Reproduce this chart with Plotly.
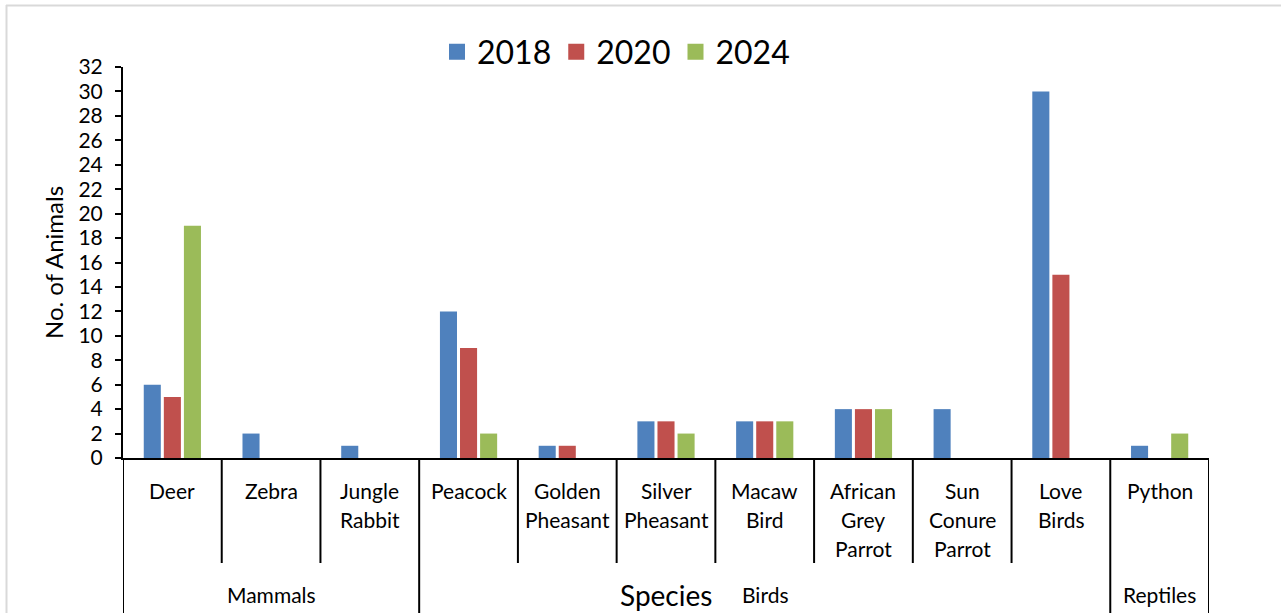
import plotly.graph_objects as go

# ---- data ----
species = ["Deer", "Zebra", "Jungle Rabbit", "Peacock", "Golden Pheasant",
           "Silver Pheasant", "Macaw Bird", "African Grey Parrot",
           "Sun Conure Parrot", "Love Birds", "Python"]
species_lines = [["Deer"], ["Zebra"], ["Jungle", "Rabbit"], ["Peacock"],
                 ["Golden", "Pheasant"], ["Silver", "Pheasant"], ["Macaw", "Bird"],
                 ["African", "Grey", "Parrot"], ["Sun", "Conure", "Parrot"],
                 ["Love", "Birds"], ["Python"]]
groups = ["Mammals", "Birds", "Reptiles"]
group_sizes = [3, 7, 1]
years = ["2018", "2020", "2024"]
v2018 = [6, 2, 1, 12, 1, 3, 3, 4, 4, 30, 1]
v2020 = [5, 0, 0, 9, 1, 3, 3, 4, 0, 15, 0]
v2024 = [19, 0, 0, 2, 0, 2, 3, 4, 0, 0, 2]
colors = ["#4F81BD", "#C0504D", "#9BBB59"]
y_ticks = list(range(0, 33, 2))

# ---- layout geometry ----
W, H = 1281, 613
L, R, T, B = 123, 72, 67, 155
PW, PH = W - L - R, H - T - B


def px_x(px):
    return (px - L) / PW


def px_y(py):
    return (H - B - py) / PH


FONT = "Lato"
fig = go.Figure()
for name, vals, col in zip(years, [v2018, v2020, v2024], colors):
    fig.add_trace(go.Bar(x=species, y=vals, name=name, marker_color=col,
                         marker_line_width=0, showlegend=False))
    # legend proxy with bigger square
    fig.add_trace(go.Scatter(x=[None], y=[None], mode="markers", name=name,
                             marker=dict(symbol="square", size=22, color=col)))

shapes = []
# divider lines below the axis
group_bounds = [0]
for s in group_sizes:
    group_bounds.append(group_bounds[-1] + s)
for k in range(len(species) + 1):
    bottom = 613 if k in group_bounds else 563
    shapes.append(dict(type="line", xref="x", yref="paper", x0=k - 0.5, x1=k - 0.5,
                       y0=0, y1=px_y(bottom), line=dict(color="black", width=2)))
# outer light frame
shapes.append(dict(type="line", xref="paper", yref="paper", x0=px_x(6), x1=px_x(1281),
                   y0=px_y(5.5), y1=px_y(5.5), line=dict(color="#D9D9D9", width=2)))
shapes.append(dict(type="line", xref="paper", yref="paper", x0=px_x(6.5), x1=px_x(6.5),
                   y0=px_y(5), y1=px_y(613), line=dict(color="#D9D9D9", width=2)))

annotations = []
for name, lines in zip(species, species_lines):
    for i, ln in enumerate(lines):
        annotations.append(dict(x=name, xref="x", y=0, yref="paper", text=ln,
                                showarrow=False, yanchor="middle", yshift=-(32 + 29 * i),
                                font=dict(size=21, family=FONT, color="black")))
for g, a, b in zip(groups, group_bounds[:-1], group_bounds[1:]):
    annotations.append(dict(x=(a + b - 1) / 2, xref="x", y=0, yref="paper", text=g,
                            showarrow=False, yanchor="middle", yshift=-136,
                            font=dict(size=21, family=FONT, color="black")))
annotations.append(dict(x=0.5, xref="paper", y=0, yref="paper", text="Species",
                        showarrow=False, yanchor="middle", yshift=-137,
                        font=dict(size=28, family=FONT, color="black")))

fig.update_layout(
    width=W, height=H,
    margin=dict(l=L, r=R, t=T, b=B),
    paper_bgcolor="white", plot_bgcolor="white",
    font=dict(family=FONT, color="black"),
    barmode="group", bargap=0.39, bargroupgap=0.15,
    legend=dict(orientation="h", x=px_x(616), xanchor="center", y=px_y(52),
                yanchor="middle", font=dict(size=32, family=FONT, color="black"),
                itemsizing="trace", bgcolor="rgba(0,0,0,0)"),
    shapes=shapes, annotations=annotations,
)
fig.update_xaxes(type="category", range=[-0.5, len(species) - 0.5], showticklabels=False,
                 showline=True, linecolor="black", linewidth=2, ticks="",
                 showgrid=False, zeroline=False, fixedrange=True)
fig.update_yaxes(range=[0, 32], tickvals=y_ticks, showline=True, linecolor="black",
                 linewidth=2, ticks="outside", ticklen=6, tickwidth=2, tickcolor="black",
                 showgrid=False, zeroline=False, ticklabelstandoff=8,
                 tickfont=dict(size=21, family=FONT, color="black"),
                 title=dict(text="No. of Animals", font=dict(size=24, family=FONT, color="black"),
                            standoff=8))

fig.write_html("out.html")
